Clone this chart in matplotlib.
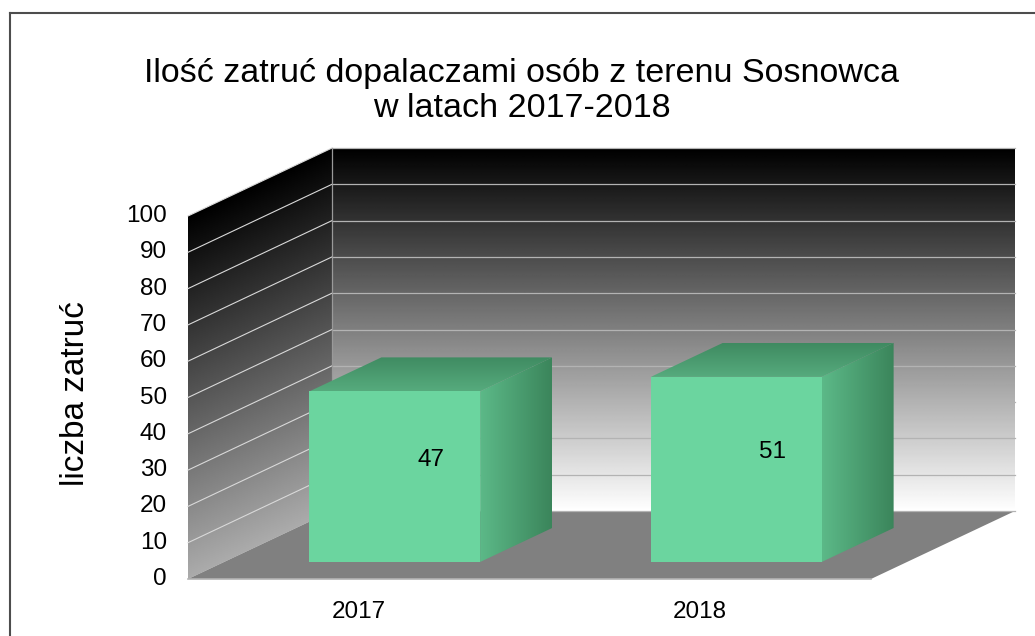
import numpy as np
import matplotlib
matplotlib.use("Agg")
import matplotlib.pyplot as plt
from matplotlib.patches import Polygon
from matplotlib.lines import Line2D
from matplotlib.colors import LinearSegmentedColormap

# data
years = ['2017', '2018']
values = [47, 51]
yticks = list(range(0, 101, 10))
title = 'Ilość zatruć dopalaczami osób z terenu Sosnowca\nw latach 2017-2018'
ylabel = 'liczba zatruć'

plt.rcParams['font.family'] = ['Liberation Sans', 'DejaVu Sans']

W, H = 1035, 636
SX = 341.5      # px per category
SY = 3.63       # px per value unit
X0, Y0 = 188, 579   # px of origin (front, bottom-left)
D = 144 / SX        # depth offset in category units
DY = 68 / SY        # depth offset in value units
ymax = yticks[-1]
ncat = len(years)

fig = plt.figure(figsize=(W / 100, H / 100), dpi=100)
ax = fig.add_axes([0, 0, 1, 1])
ax.set_xlim(-X0 / SX, (W - X0) / SX)
ax.set_ylim((Y0 - H) / SY, Y0 / SY)
ax.axis('off')


def grad_fill(verts, colors, tfunc, zorder):
    verts = np.asarray(verts, dtype=float)
    poly = Polygon(verts, closed=True, facecolor='none', edgecolor='none')
    ax.add_patch(poly)
    x0, x1 = verts[:, 0].min(), verts[:, 0].max()
    y0, y1 = verts[:, 1].min(), verts[:, 1].max()
    gx, gy = np.meshgrid(np.linspace(x0, x1, 300), np.linspace(y0, y1, 300))
    t = np.clip(tfunc(gx, gy), 0, 1)
    cmap = LinearSegmentedColormap.from_list('g', colors)
    im = ax.imshow(t, extent=(x0, x1, y0, y1), origin='lower', cmap=cmap,
                   vmin=0, vmax=1, aspect='auto', interpolation='bilinear',
                   zorder=zorder)
    im.set_clip_path(poly)


# back wall
back = [(D, DY), (ncat + D, DY), (ncat + D, ymax + DY), (D, ymax + DY)]
grad_fill(back, ['#000000', '#ffffff'],
          lambda gx, gy: 1 - (gy - DY) / ymax, 1)

# left wall
left = [(0, 0), (D, DY), (D, ymax + DY), (0, ymax)]
grad_fill(left, ['#000000', '#ababab'],
          lambda gx, gy: 1 - (gy - gx / D * DY) / ymax, 1)

# floor
floor = Polygon([(0, 0), (ncat, 0), (ncat + D, DY), (D, DY)], closed=True,
                facecolor='#808080', edgecolor='none', zorder=1)
ax.add_patch(floor)
ax.plot([0, ncat], [0, 0], color='#b3b3b3', lw=1.2, zorder=2)

# grid lines
for v in yticks[1:]:
    ax.plot([D, ncat + D], [v + DY, v + DY], color='#b3b3b3', lw=0.9, zorder=2)
    ax.plot([0, D], [v, v + DY], color='#d9d9d9', lw=0.8, zorder=2)
ax.plot([D, D], [DY, ymax + DY], color='#9a9a9a', lw=0.9, zorder=2)
ax.plot([D, ncat + D], [DY, DY], color='#b3b3b3', lw=0.9, zorder=2)

# bars
bw = 0.5
for i, v in enumerate(values):
    fx0 = i + (1 - bw) / 2 + 0.25 * D
    fx1 = fx0 + bw
    fy0 = 0.25 * DY
    fy1 = v + 0.25 * DY
    dx, dy = 0.5 * D, 0.5 * DY
    right = [(fx1, fy0), (fx1 + dx, fy0 + dy), (fx1 + dx, fy1 + dy), (fx1, fy1)]
    grad_fill(right, ['#5cb988', '#3b855b'],
              lambda gx, gy, a=fx1: (gx - a) / dx, 3)
    top = [(fx0, fy1), (fx1, fy1), (fx1 + dx, fy1 + dy), (fx0 + dx, fy1 + dy)]
    grad_fill(top, ['#56ab7d', '#3f8a61'],
              lambda gx, gy, b=fy1: (gy - b) / dy, 3)
    ax.add_patch(Polygon([(fx0, fy0), (fx1, fy0), (fx1, fy1), (fx0, fy1)],
                         closed=True, facecolor='#6bd59f', edgecolor='none',
                         zorder=4))
    ax.text(i + 0.5 + 0.5 * D, v / 2 + 0.5 * DY, str(v), ha='center',
            va='center', fontsize=17.5, color='black', zorder=5)
    ax.text(i + 0.5, -9.1, years[i], ha='center', va='center', fontsize=17.5)

# y tick labels
for v in yticks:
    ax.text(-21 / SX, v, str(v), ha='right', va='center', fontsize=17.5)

ax.text(-113 / SX, ymax / 2 + 1, ylabel, rotation=90, ha='center', va='center',
        fontsize=24)

fig.text(522 / W, 1 - 91 / H, title, ha='center', va='center', fontsize=24.5,
         linespacing=1.2)

# outer frame (left and top only visible)
fig.add_artist(Line2D([9.5 / W, 9.5 / W], [0, 1 - 12.5 / H],
                      color='#4d4d4d', lw=1.5, transform=fig.transFigure))
fig.add_artist(Line2D([9.5 / W, 1], [1 - 12.5 / H, 1 - 12.5 / H],
                      color='#4d4d4d', lw=1.5, transform=fig.transFigure))

fig.savefig('out.png', dpi=100)
